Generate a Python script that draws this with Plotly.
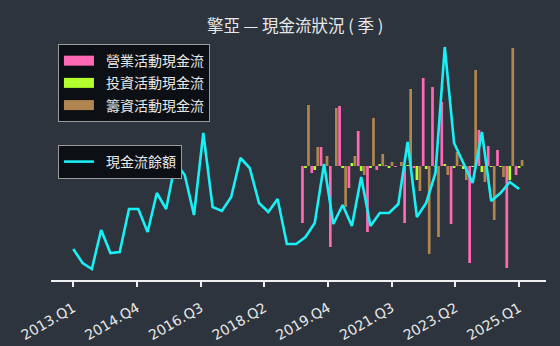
import plotly.graph_objects as go
import numpy as np

# quarter labels 2013.Q1 .. 2025.Q1
quarters = [f"{y}.Q{q}" for y in range(2013, 2026) for q in range(1, 5)][:49]

# cash-flow balance (line), estimated
balance = [31, 17, 11, 50, 27, 28, 71, 71, 48, 87,
           71, 118, 105, 65, 147, 73, 69, 83, 122, 112,
           77, 68, 81, 36, 36, 43, 57, 116, 56, 75,
           54, 103, 54, 67, 67, 76, 138, 63, 77, 107,
           233, 137, 117, 97, 148, 79, 87, 98, 91]

N0 = 25  # bars start at this quarter
operating = [None] * N0 + [-57, -7, 19, -81, 60, -22, 35, -66, -4, 1,
                           -1, -57, -2, 88, 79, 64, -58, 1, -97, 36,
                           20, 16, -102, -9]
investing = [None] * N0 + [-2, -4, -1, 0, -2, 3, -5, -2, 2, -2,
                           0, 1, -14, -3, -1, 2, -2, -3, -1, -6,
                           -1, -1, -14, -2]
financing = [None] * N0 + [61, 19, 10, 58, -41, 10, -9, 48, 12, 4,
                           4, 77, -25, -88, -71, -9, 14, -14, 96, -16,
                           -54, -11, 118, 6]

bar_names = ["營業活動現金流", "投資活動現金流", "籌資活動現金流"]
bar_colors = ["#ff69b4", "#b4ff2e", "#b08550"]
line_name = "現金流餘額"

idx = list(range(len(quarters)))
tickpos = np.linspace(0, len(quarters) - 1, 8)
ticktext = [quarters[int(round(v))] for v in tickpos]

BG = "#2e343d"
FONT = "Noto Sans CJK TC"
PAD = "\u2002"  # small gap between legend swatch and text

fig = go.Figure()
for name, vals, col in zip(bar_names, [operating, investing, financing], bar_colors):
    fig.add_trace(go.Bar(x=idx, y=vals, name=name, marker_color=col,
                         marker_line_width=0, showlegend=False))
fig.add_trace(go.Scatter(x=idx, y=balance, name=PAD + line_name, mode="lines",
                         line=dict(color="#19f0f5", width=2.6), yaxis="y2",
                         legend="legend2"))
# legend swatches (wide rectangles) for the bar series
for k, (name, col) in enumerate(zip(bar_names, bar_colors)):
    fig.add_trace(go.Scatter(x=[None], y=[None], name=PAD + name, mode="lines",
                             line=dict(color=col, width=10), legend="legend",
                             legendgroup=f"g{k}"))

fig.update_layout(
    width=560, height=346,
    paper_bgcolor=BG, plot_bgcolor=BG,
    margin=dict(l=51, r=14, t=40, b=66),
    font=dict(family=FONT, color="#e8e8e8", size=12),
    title=dict(text="擎亞 — 現金流狀況 ( 季 )", x=0.527, xref="container",
               y=0.925, yref="container", xanchor="center", yanchor="middle",
               font=dict(size=16.5, color="#e8e8e8", family=FONT)),
    barmode="group", bargap=0.03, bargroupgap=0.1,
    xaxis=dict(range=[-2.4, 50.9], tickvals=list(tickpos), ticktext=ticktext,
               tickangle=-30, showgrid=False, zeroline=False, automargin=False,
               showline=True, linecolor="#f0f0f0", linewidth=1.5,
               ticks="outside", ticklen=5, tickcolor="#f0f0f0", tickwidth=1.5,
               ticklabelstandoff=8,
               tickfont=dict(size=14, color="#e8e8e8", family="DejaVu Sans")),
    yaxis=dict(range=[-114, 126], visible=False, showgrid=False, zeroline=False),
    yaxis2=dict(range=[0, 240], overlaying="y", visible=False, showgrid=False,
                zeroline=False),
    legend=dict(x=0.014, y=0.983, xanchor="left", yanchor="top",
                bgcolor="#0c0f14", bordercolor="#9a9a9a", borderwidth=1,
                font=dict(size=14, color="#e8e8e8", family=FONT),
                tracegroupgap=1, itemwidth=30),
    legend2=dict(x=0.014, y=0.5625, xanchor="left", yanchor="top",
                 bgcolor="#0c0f14", bordercolor="#9a9a9a", borderwidth=1,
                 font=dict(size=14, color="#e8e8e8", family=FONT), itemwidth=30),
    showlegend=True,
)

fig.write_html("out.html")
